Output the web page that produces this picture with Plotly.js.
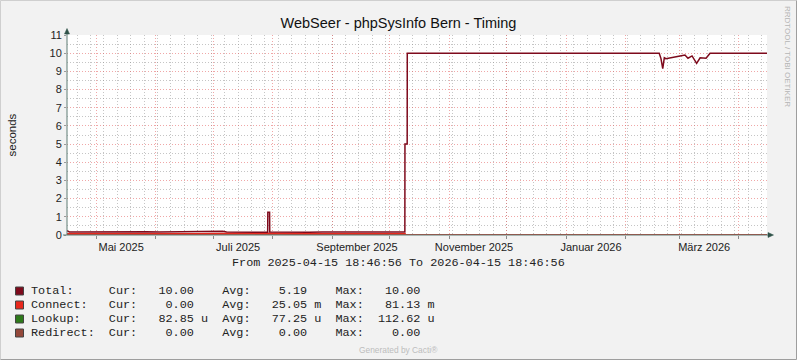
<!DOCTYPE html>
<html>
<head>
<meta charset="utf-8">
<script src="https://cdn.plot.ly/plotly-3.0.1.min.js"></script>
<style>
html,body{margin:0;padding:0;background:#F2F2F2;}
#chart{width:797px;height:360px;}
</style>
</head>
<body>
<div id="chart"></div>
<script>
// ---------------- data ----------------
const xStart = '2025-04-15 18:46:56';
const xEnd   = '2026-04-15 18:46:56';

const totalDates = [
  '2025-04-15 18:46:56','2025-04-17 00:00','2025-04-22 00:00','2025-04-29 00:00','2025-05-05 00:00',
  '2025-05-12 00:00','2025-05-20 00:00','2025-05-27 00:00','2025-06-03 00:00','2025-06-10 00:00',
  '2025-06-17 00:00','2025-06-24 00:00','2025-07-01 00:00','2025-07-06 00:00','2025-07-08 00:00',
  '2025-07-15 00:00','2025-07-22 00:00','2025-07-29 10:00','2025-07-29 12:00','2025-07-30 10:00',
  '2025-07-30 12:00','2025-08-06 00:00','2025-08-13 00:00','2025-08-20 00:00','2025-08-27 00:00',
  '2025-09-03 00:00','2025-09-10 00:00','2025-09-17 00:00','2025-09-24 00:00','2025-10-01 00:00',
  '2025-10-08 23:00','2025-10-09 00:00','2025-10-10 04:00','2025-10-10 05:00','2026-02-18 14:00',
  '2026-02-19 12:00','2026-02-20 10:00','2026-02-21 06:00','2026-02-22 02:00','2026-02-25 07:00',
  '2026-03-01 10:00','2026-03-04 00:00','2026-03-05 14:00','2026-03-07 17:00','2026-03-10 02:00',
  '2026-03-11 22:00','2026-03-15 00:00','2026-03-17 02:00','2026-04-15 18:46:56'
];
const totalValues = [
  0.24, 0.17, 0.16, 0.17, 0.15,
  0.17, 0.16, 0.18, 0.16, 0.17,
  0.15, 0.17, 0.16, 0.20, 0.16,
  0.17, 0.15, 0.15, 1.25, 1.25,
  0.17, 0.16, 0.17, 0.15, 0.17,
  0.16, 0.17, 0.16, 0.17, 0.16,
  0.16, 5.0, 5.0, 10, 10,
  9.70, 9.15, 9.75, 9.70, 9.78,
  9.85, 9.90, 9.72, 9.85, 9.44,
  9.75, 9.72, 10, 10
];

const connectDates  = ['2025-04-15 18:46:56','2025-05-10 00:00','2025-06-20 00:00','2025-07-29 12:00','2025-08-15 00:00','2025-09-20 00:00','2025-10-08 23:00','2025-10-09 00:00','2026-04-15 18:46:56'];
const connectValues = [0.06, 0.05, 0.055, 0.08, 0.05, 0.05, 0.05, 0, 0];

const lookupDates  = ['2025-04-15 18:46:56','2025-10-09 00:00','2026-04-15 18:46:56'];
const lookupValues = [0.00011, 0.00008, 0.0000829];

const redirectDates  = ['2025-04-15 18:46:56','2026-04-15 18:46:56'];
const redirectValues = [0, 0];

const monthLabelDates = ['2025-05-14','2025-07-14','2025-09-14','2025-11-14','2026-01-14','2026-03-14'];
const monthLabels     = ['Mai 2025','Juli 2025','September 2025','November 2025','Januar 2026','März 2026'];

const legendNames = ['Total:','Connect:','Lookup:','Redirect:'];
const curVals  = ['10.00','0.00','82.85','0.00'];
const curUnits = ['','','u',''];
const avgVals  = ['5.19','25.05','77.25','0.00'];
const avgUnits = ['','m','u',''];
const maxVals  = ['10.00','81.13','112.62','0.00'];
const maxUnits = ['','m','u',''];

const titleText = 'WebSeer - phpSysInfo Bern - Timing';
const yTitle = 'seconds';
const periodText = 'From 2025-04-15 18:46:56 To 2026-04-15 18:46:56';

// ---------------- styles ----------------
const colTotal = '#7E0A1C', colConnect = '#E8281C', colLookup = '#2E7A1A', colRedirect = '#94483A';
const axisColor = '#5E7D75';
const arrowColor = '#2F5248';
const gridColor = 'rgba(140,140,140,0.5)';
const mgridColor = 'rgba(225,80,80,0.5)';
const dash = '1px,2px';
const mono = '"Liberation Mono", "Courier New", monospace';
const sans = '"Liberation Sans", Arial, sans-serif';

const PL = 67, PW = 700, PT = 35, PH = 200;
const fx = p => (p - PL) / PW;
const fy = p => (PT + PH - p) / PH;

// ---------------- legend text ----------------
function place(buf, s, col){ while(buf.length < col) buf.push('\u00A0'); for(let i=0;i<s.length;i++) buf[col+i] = s[i]; return buf; }
function row(i){
  const b = [];
  place(b, legendNames[i], 0);
  place(b, 'Cur:', 11);
  place(b, curVals[i], 23 - curVals[i].length);
  if (curUnits[i]) place(b, curUnits[i], 24);
  place(b, 'Avg:', 27);
  place(b, avgVals[i], 39 - avgVals[i].length);
  if (avgUnits[i]) place(b, avgUnits[i], 40);
  place(b, 'Max:', 43);
  place(b, maxVals[i], 55 - maxVals[i].length);
  if (maxUnits[i]) place(b, maxUnits[i], 56);
  return b.map(c => c === ' ' ? '\u00A0' : c).join('');
}
const legendColors = [colTotal, colConnect, colLookup, colRedirect];
const rowY = [291, 305, 319, 333];

const annotations = [];
const shapes = [];
legendNames.forEach((n, i) => {
  annotations.push({xref:'paper', yref:'paper', x:fx(28.8), y:fy(rowY[i]), xanchor:'left', yanchor:'middle',
    text: row(i), showarrow:false, font:{family:mono, size:11.8, color:'#222'}});
  shapes.push({type:'rect', xref:'paper', yref:'paper', x0:fx(15.5), x1:fx(23.5), y0:fy(rowY[i]-4), y1:fy(rowY[i]+4),
    fillcolor:legendColors[i], line:{color:'#444', width:1}, layer:'above'});
});
annotations.push({xref:'paper', yref:'paper', x:fx(398.5), y:fy(263), xanchor:'center', yanchor:'middle',
  text: periodText.replace(/ /g,'\u00A0'), showarrow:false, font:{family:mono, size:11.8, color:'#222'}});
annotations.push({xref:'paper', yref:'paper', x:fx(11), y:fy(135.5), xanchor:'center', yanchor:'middle', textangle:-90,
  text: yTitle, showarrow:false, font:{family:sans, size:11.5, color:'#222'}});
annotations.push({xref:'paper', yref:'paper', x:fx(788), y:fy(56), xanchor:'center', yanchor:'middle', textangle:90,
  text: 'RRDTOOL / TOBI OETIKER', showarrow:false, font:{family:sans, size:8, color:'#B5B5B5'}});
annotations.push({xref:'paper', yref:'paper', x:fx(398.5), y:fy(349.5), xanchor:'center', yanchor:'middle',
  text: 'Generated by Cacti®', showarrow:false, font:{family:sans, size:8.4, color:'#BDBDBD'}});

// axis arrows and extensions
shapes.push({type:'line', xref:'paper', yref:'paper', x0:fx(67), x1:fx(67), y0:fy(235), y1:fy(31), line:{color:axisColor, width:1}, layer:'above'});
shapes.push({type:'line', xref:'paper', yref:'paper', x0:fx(63), x1:fx(770), y0:fy(235), y1:fy(235), line:{color:axisColor, width:1}, layer:'above'});
shapes.push({type:'path', xref:'paper', yref:'paper', layer:'above', fillcolor:arrowColor, line:{color:arrowColor, width:0.5},
  path:`M ${fx(64.5)} ${fy(34)} L ${fx(67)} ${fy(28.5)} L ${fx(69.5)} ${fy(34)} Z`});
shapes.push({type:'path', xref:'paper', yref:'paper', layer:'above', fillcolor:arrowColor, line:{color:arrowColor, width:0.5},
  path:`M ${fx(768)} ${fy(232.5)} L ${fx(773.5)} ${fy(235)} L ${fx(768)} ${fy(237.5)} Z`});
// image frame (3D shade)
shapes.push({type:'line', xref:'paper', yref:'paper', x0:fx(0.5), x1:fx(796.5), y0:fy(0.5), y1:fy(0.5), line:{color:'#CFCFCF', width:1}, layer:'above'});
shapes.push({type:'line', xref:'paper', yref:'paper', x0:fx(0.5), x1:fx(0.5), y0:fy(0.5), y1:fy(359.5), line:{color:'#CFCFCF', width:1}, layer:'above'});
shapes.push({type:'line', xref:'paper', yref:'paper', x0:fx(796.5), x1:fx(796.5), y0:fy(0.5), y1:fy(359.5), line:{color:'#9E9E9E', width:1}, layer:'above'});
shapes.push({type:'line', xref:'paper', yref:'paper', x0:fx(0.5), x1:fx(796.5), y0:fy(359.5), y1:fy(359.5), line:{color:'#9E9E9E', width:1}, layer:'above'});

// ---------------- traces ----------------
const traces = [
  {x: redirectDates, y: redirectValues, xaxis:'x2', type:'scatter', mode:'lines', line:{color:colRedirect, width:1}, hoverinfo:'skip'},
  {x: lookupDates, y: lookupValues, type:'scatter', mode:'lines', line:{color:colLookup, width:1}, hoverinfo:'skip'},
  {x: connectDates, y: connectValues, type:'scatter', mode:'lines', line:{color:colConnect, width:2}, hoverinfo:'skip'},
  {x: totalDates, y: totalValues, type:'scatter', mode:'lines', line:{color:colTotal, width:1.5}, hoverinfo:'skip'}
];

const layout = {
  width: 797, height: 360,
  paper_bgcolor: '#F2F2F2', plot_bgcolor: '#FFFFFF',
  margin: {l: PL, r: 797 - PL - PW, t: PT, b: 360 - PT - PH, pad: 0},
  showlegend: false,
  font: {family: sans, size: 11, color: '#222'},
  title: {text: titleText, xref: 'container', yref: 'container', x: 0.5, xanchor: 'center',
          y: 1 - 22.5/360, yanchor: 'middle', font: {family: sans, size: 14.5, color: '#111'}},
  xaxis: {type: 'date', range: [xStart, xEnd], tickmode: 'array', tickvals: monthLabelDates, ticktext: monthLabels,
          ticks: '', ticklabelstandoff: 4, showgrid: false, showline: false, zeroline: false, fixedrange: true,
          tickfont: {family: sans, size: 11, color: '#222'},
          minor: {tick0: '2025-04-21', dtick: 7*86400000, showgrid: true, gridcolor: gridColor, griddash: dash, gridwidth: 1, ticks: ''}},
  xaxis2: {type: 'date', overlaying: 'x', anchor: 'y', side: 'bottom', range: [xStart, xEnd],
           tickmode: 'linear', tick0: '2025-05-01', dtick: 'M1', showticklabels: false,
           ticks: 'outside', ticklen: 3, tickcolor: '#8A8A8A', tickwidth: 1,
           showgrid: true, gridcolor: mgridColor, griddash: dash, gridwidth: 1, showline: false, zeroline: false, fixedrange: true},
  yaxis: {range: [0, 11], tickmode: 'linear', tick0: 0, dtick: 1, ticks: 'outside', ticklen: 2, tickcolor: '#999',
          showgrid: true, gridcolor: mgridColor, griddash: dash, gridwidth: 1, showline: false, zeroline: false, fixedrange: true,
          tickfont: {family: sans, size: 11, color: '#222'},
          minor: {tick0: 0, dtick: 0.5, showgrid: true, gridcolor: gridColor, griddash: dash, gridwidth: 1, ticks: ''}},
  annotations: annotations,
  shapes: shapes
};

Plotly.newPlot('chart', traces, layout, {staticPlot: true, displayModeBar: false});
</script>
</body>
</html>
